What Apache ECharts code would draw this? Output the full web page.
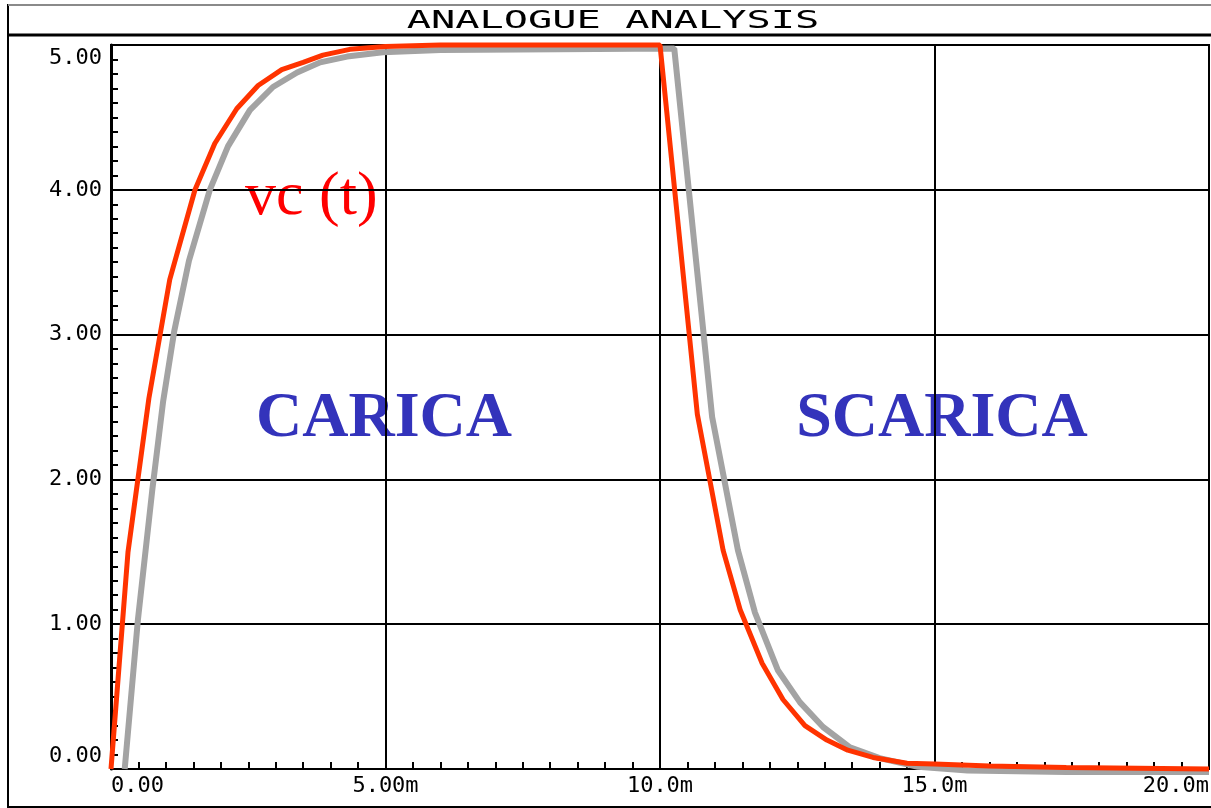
<!DOCTYPE html>
<html>
<head>
<meta charset="utf-8">
<style>
  html, body { margin: 0; padding: 0; background: #fff; }
  #chart { width: 1211px; height: 808px; }
</style>
<script src="https://cdn.jsdelivr.net/npm/echarts/dist/echarts.min.js"></script>
</head>
<body>
<div id="chart"></div>
<script>
// ---- data (time in ms, voltage in V) ----
const redTime = [0, 0.31, 0.69, 1.07, 1.53, 1.89, 2.29, 2.68, 3.11, 3.50, 3.86, 4.35, 5.0, 6.0, 10.0, 10.68, 11.15, 11.46, 11.86, 12.24, 12.64, 13.04, 13.42, 13.88, 14.5, 15.0, 16.0, 17.4, 20.0];
const redVolt = [0, 1.50, 2.56, 3.38, 4.00, 4.32, 4.56, 4.72, 4.83, 4.88, 4.93, 4.97, 4.99, 5.0, 5.0, 2.45, 1.51, 1.10, 0.73, 0.48, 0.30, 0.20, 0.13, 0.08, 0.04, 0.035, 0.02, 0.01, 0.0];
const grayTime = [0.25, 0.49, 0.75, 0.95, 1.15, 1.42, 1.80, 2.13, 2.53, 2.95, 3.39, 3.81, 4.30, 4.95, 6.0, 10.26, 10.95, 11.42, 11.73, 12.15, 12.55, 12.97, 13.46, 14.0, 14.7, 15.6, 17.4, 20.0];
const grayVolt = [0, 1.03, 1.92, 2.54, 3.02, 3.51, 4.00, 4.30, 4.55, 4.71, 4.81, 4.88, 4.92, 4.95, 4.965, 4.975, 2.43, 1.51, 1.08, 0.68, 0.46, 0.29, 0.15, 0.075, 0.015, -0.01, -0.02, -0.02];
const xTickValues = [0, 5, 10, 15, 20];
const xTickLabels = ['0.00', '5.00m', '10.0m', '15.0m', '20.0m'];
const yTickValues = [0, 1, 2, 3, 4, 5];
const yTickLabels = ['0.00', '1.00', '2.00', '3.00', '4.00', '5.00'];
const xMinorStep = 0.5;
const yMinorStep = 0.1;
const titleText = 'ANALOGUE ANALYSIS';
const curveLabel = 'vc (t)';
const chargeLabel = 'CARICA';
const dischargeLabel = 'SCARICA';

const pair = (xs, ys) => xs.map((x, i) => [x, ys[i]]);
const monoFont = '"DejaVu Sans Mono", "Liberation Mono", monospace';

const xFormatter = (v) => {
  const i = xTickValues.findIndex(t => Math.abs(t - v) < 1e-9);
  return i < 0 ? '' : xTickLabels[i];
};
// the bottom/top y labels sit just above/below their tick, as in the reference
const yFormatter = (v) => {
  const i = yTickValues.findIndex(t => Math.abs(t - v) < 1e-9);
  if (i < 0) return '';
  if (i === 0) return yTickLabels[i] + '\n';
  if (i === yTickValues.length - 1) return '\n' + yTickLabels[i];
  return yTickLabels[i];
};
const black2 = { color: '#000', width: 2 };

const chart = echarts.init(document.getElementById('chart'), null, { renderer: 'canvas' });
chart.setOption({
  animation: false,
  backgroundColor: '#fff',
  grid: {
    left: 111, right: 2, top: 45, bottom: 39,
    containLabel: false, outerBoundsMode: 'none',
    show: true, borderColor: '#000', borderWidth: 2, backgroundColor: 'transparent'
  },
  xAxis: [
    {
      type: 'value', min: 0, max: 20, interval: 5, position: 'bottom',
      axisLine: { show: true, onZero: false, lineStyle: black2 },
      axisTick: { show: false },
      splitLine: { show: true, lineStyle: black2 },
      axisLabel: {
        color: '#000', fontFamily: monoFont, fontSize: 22, margin: 6, hideOverlap: false,
        alignMinLabel: 'left', alignMaxLabel: 'right',
        formatter: xFormatter
      }
    },
    {
      type: 'value', min: 0, max: 20, interval: xMinorStep, position: 'bottom',
      axisLine: { show: false, onZero: false },
      axisTick: { show: true, inside: true, length: 7, lineStyle: black2 },
      splitLine: { show: false },
      axisLabel: { show: false }
    }
  ],
  yAxis: [
    {
      type: 'value', min: 0, max: 5, interval: 1, position: 'left',
      axisLine: { show: true, onZero: false, lineStyle: { color: '#000', width: 3 } },
      axisTick: { show: false },
      splitLine: { show: true, lineStyle: black2 },
      axisLabel: { color: '#000', fontFamily: monoFont, fontSize: 22, margin: 9, lineHeight: 26, formatter: yFormatter }
    },
    {
      type: 'value', min: 0, max: 5, interval: yMinorStep, position: 'left',
      axisLine: { show: false, onZero: false },
      axisTick: { show: true, inside: true, length: 7, lineStyle: black2 },
      splitLine: { show: false },
      axisLabel: { show: false }
    }
  ],
  series: [
    {
      type: 'line', name: 'ref', data: pair(grayTime, grayVolt),
      xAxisIndex: 0, yAxisIndex: 0,
      showSymbol: false, symbol: 'none', clip: false, smooth: false,
      lineStyle: { color: '#a3a3a3', width: 6 }, z: 3
    },
    {
      type: 'line', name: 'vc', data: pair(redTime, redVolt),
      xAxisIndex: 0, yAxisIndex: 0,
      showSymbol: false, symbol: 'none', clip: false, smooth: false,
      lineStyle: { color: '#ff3300', width: 5 }, z: 4
    }
  ],
  graphic: [
    { type: 'rect', z: 10, silent: true,
      shape: { x: 8, y: 5, width: 1210, height: 802 },
      style: { fill: 'none', stroke: '#000', lineWidth: 2 } },
    { type: 'line', z: 11, silent: true,
      shape: { x1: 8, y1: 5, x2: 1211, y2: 5 },
      style: { stroke: '#8a8a8a', lineWidth: 2 } },
    { type: 'line', z: 10, silent: true,
      shape: { x1: 8, y1: 35, x2: 1211, y2: 35 },
      style: { stroke: '#000', lineWidth: 3 } },
    { type: 'text', z: 10, silent: true, x: 613, y: 22, scaleX: 1.68,
      style: { text: titleText, font: '24px ' + monoFont, fill: '#000', align: 'center', verticalAlign: 'middle' } },
    { type: 'text', z: -1, silent: true, x: 245, y: 198,
      style: { text: curveLabel, font: '62px "Liberation Serif", "Times New Roman", serif', fill: '#ff0000', align: 'left', verticalAlign: 'middle' } },
    { type: 'text', z: -1, silent: true, x: 384, y: 419,
      style: { text: chargeLabel, font: 'bold 64px "Liberation Serif", "Times New Roman", serif', fill: '#3333bb', align: 'center', verticalAlign: 'middle' } },
    { type: 'text', z: -1, silent: true, x: 942, y: 419,
      style: { text: dischargeLabel, font: 'bold 64px "Liberation Serif", "Times New Roman", serif', fill: '#3333bb', align: 'center', verticalAlign: 'middle' } }
  ]
});
</script>
</body>
</html>
